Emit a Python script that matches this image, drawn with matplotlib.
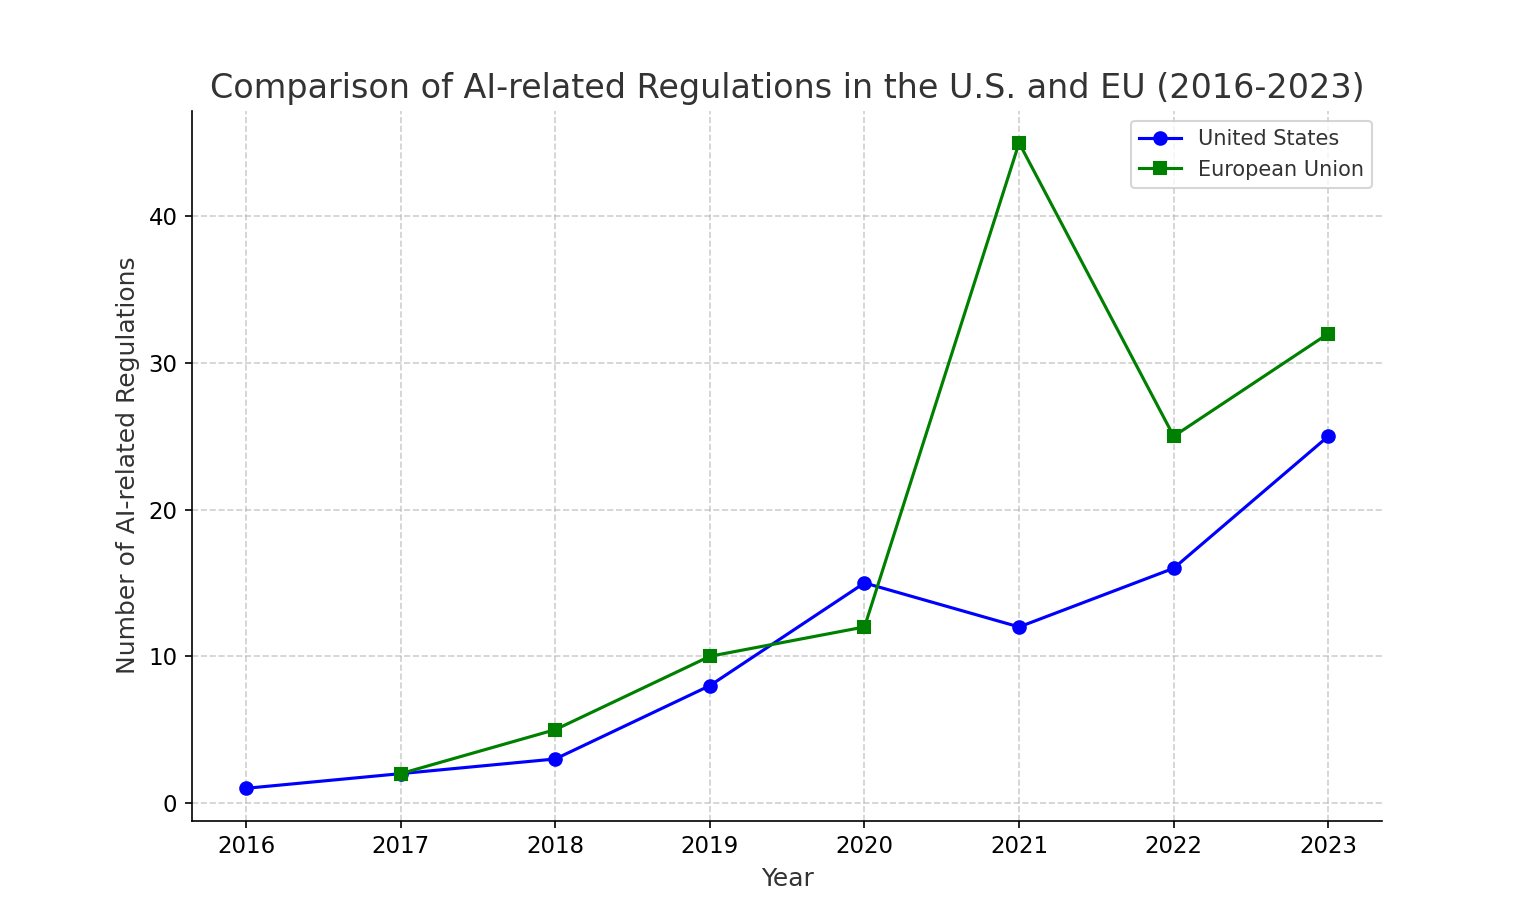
import numpy as np
import matplotlib.pyplot as plt

years = [2016, 2017, 2018, 2019, 2020, 2021, 2022, 2023]
us_values = [1, 2, 3, 8, 15, 12, 16, 25]
eu_values = [np.nan, 2, 5, 10, 12, 45, 25, 32]

plt.rcParams['text.color'] = '#333333'
plt.rcParams['axes.labelcolor'] = '#333333'

fig, ax = plt.subplots(figsize=(10.24, 6.147), dpi=150)
ax.plot(years, us_values, marker='o', color='blue', label='United States')
ax.plot(years, eu_values, marker='s', color='green', label='European Union')

ax.set_title('Comparison of AI-related Regulations in the U.S. and EU (2016-2023)', fontsize=16)
ax.set_xlabel('Year', fontsize=12)
ax.set_ylabel('Number of AI-related Regulations', fontsize=12)
ax.set_xticks(years)
ax.tick_params(labelsize=11)
ax.grid(True, linestyle='--', alpha=0.6)
ax.spines['top'].set_visible(False)
ax.spines['right'].set_visible(False)
ax.legend(loc='upper right')

fig.savefig('out.png')
